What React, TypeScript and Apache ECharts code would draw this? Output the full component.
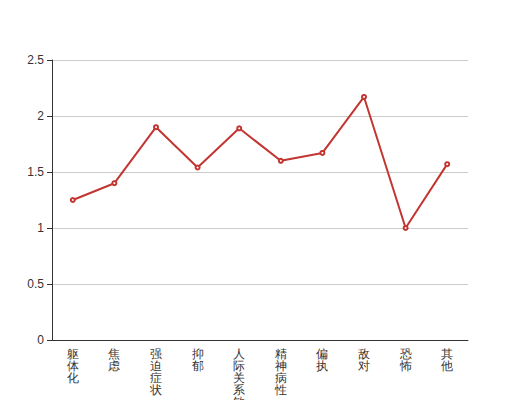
import React, { useEffect, useRef } from "react";
import * as echarts from "echarts";

const categories = ["躯体化", "焦虑", "强迫症状", "抑郁", "人际关系敏感", "精神病性", "偏执", "敌对", "恐怖", "其他"];
const values = [1.25, 1.4, 1.9, 1.54, 1.89, 1.6, 1.67, 2.17, 1.0, 1.57];
const yTicks = { min: 0, max: 2.5, interval: 0.5 };

export default function App() {
  const ref = useRef<HTMLDivElement>(null);
  useEffect(() => {
    if (!ref.current) return;
    const chart = echarts.init(ref.current, null, { renderer: "svg" });
    chart.setOption({
      animation: false,
      grid: { left: 52, right: 52, top: 60, bottom: 60, containLabel: false, outerBoundsMode: "none" },
      xAxis: {
        type: "category",
        data: categories,
        boundaryGap: true,
        axisLine: { lineStyle: { color: "#333" } },
        axisTick: { lineStyle: { color: "#333" } },
        axisLabel: {
          color: "#333",
          fontSize: 12,
          lineHeight: 12,
          interval: 0,
          hideOverlap: false,
          formatter: (v: string) => v.split("").join("\n"),
        },
      },
      yAxis: {
        type: "value",
        min: yTicks.min,
        max: yTicks.max,
        interval: yTicks.interval,
        axisLine: { show: true, lineStyle: { color: "#333" } },
        axisTick: { show: true, lineStyle: { color: "#333" } },
        axisLabel: { color: "#333", fontSize: 12 },
        splitLine: { lineStyle: { color: "#ccc" } },
      },
      series: [
        {
          type: "line",
          data: values,
          symbol: "emptyCircle",
          symbolSize: 4,
          itemStyle: { color: "#c23531" },
          lineStyle: { color: "#c23531", width: 2 },
        },
      ],
    });
    return () => chart.dispose();
  }, []);
  return <div ref={ref} style={{ width: 520, height: 400, position: "absolute", left: 0, top: 0 }} />;
}
